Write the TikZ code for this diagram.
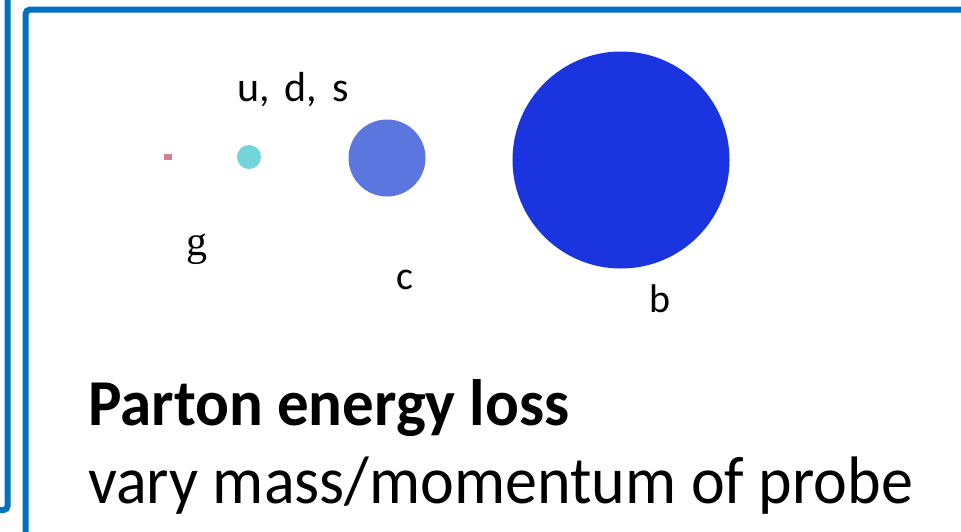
\documentclass[tikz,border=0pt]{standalone}
\usepackage{fontspec}
\setmainfont{Carlito}
\newfontfamily\serifg{Liberation Serif}
\definecolor{frameblue}{HTML}{0070C0}
\definecolor{gcol}{HTML}{D4828F}
\definecolor{udscol}{HTML}{72D6D9}
\definecolor{ccol}{HTML}{5B76DE}
\definecolor{bcol}{HTML}{1A35E0}
\begin{document}
\begin{tikzpicture}[x=1pt,y=-1pt]
\tikzset{
  frame/.style={draw=frameblue,line width=6pt,rounded corners=4pt},
  dot/.style={circle,inner sep=0pt,draw=none},
  lbl/.style={anchor=base,inner sep=0pt,font=\fontsize{40}{44}\selectfont},
  bigtxt/.style={anchor=base west,inner sep=0pt,font=\fontsize{64}{70}\selectfont}
}
\useasboundingbox (0,0) rectangle (961,531);
\fill[white] (0,0) rectangle (961,531);
\draw[frame] (7.5,-10) -- (7.5,510) -- (-10,510);
\draw[frame] (25.7,545) -- (25.7,9.7) -- (975,9.7);
\node[fill=gcol,minimum width=8pt,minimum height=6pt,inner sep=0pt] (g) at (168,157) {};
\node[dot,fill=udscol,minimum size=24pt] (uds) at (249,157) {};
\node[dot,fill=ccol,minimum size=77pt] (c) at (387,158) {};
\node[dot,fill=bcol,minimum size=217pt] (b) at (621,160) {};
\node[lbl,font=\fontsize{42}{46}\selectfont] (udslbl) at (293,101) {u,\hspace{0.35em}d,\hspace{0.35em}s};
\node[lbl,font=\fontsize{42}{46}\selectfont\serifg] (glbl) at (197,255) {g};
\node[lbl] (clbl) at (405,289) {c};
\node[lbl] (blbl) at (660,312) {b};
\node[bigtxt,font=\fontsize{63}{70}\selectfont\bfseries,yscale=1.04] (title) at (88,425) {Parton energy loss};
\node[bigtxt,yscale=1.05] (sub) at (88,503) {vary mass/momentum of probe};
\end{tikzpicture}
\end{document}
